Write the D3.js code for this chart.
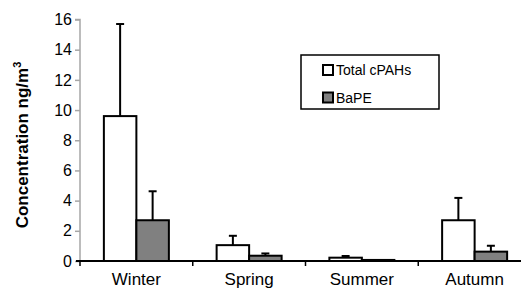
<!DOCTYPE html>
<html>
<head>
<meta charset="utf-8">
<script src="https://cdn.jsdelivr.net/npm/d3@7"></script>
<style>
  body { margin: 0; background: #fff; }
  svg { display: block; font-family: Arial, "Liberation Sans", sans-serif; }
</style>
</head>
<body>
<svg id="chart" width="521" height="288"></svg>
<script>
// seasons and the two series (mean + upper error)
var seasons = ["Winter", "Spring", "Summer", "Autumn"];
var seriesNames = ["Total cPAHs", "BaPE"];
var totalMean = [9.6, 1.05, 0.22, 2.7];
var totalErr  = [6.1, 0.62, 0.11, 1.48];
var bapeMean  = [2.7, 0.35, 0.07, 0.62];
var bapeErr   = [1.92, 0.15, 0, 0.39];
var yTicks = [0, 2, 4, 6, 8, 10, 12, 14, 16];

var fills = ["#ffffff", "#808080"];

var svg = d3.select("#chart");

var x = d3.scaleBand()
    .domain(seasons)
    .range([80, 531])
    .paddingInner(0)
    .paddingOuter(0);

var xSub = d3.scaleBand()
    .domain([0, 1])
    .range([0, 65]);

var y = d3.scaleLinear()
    .domain([0, 16])
    .range([261, 19.5]);

// y axis (grey)
var yAxis = svg.append("g")
    .attr("transform", "translate(80,0)")
    .call(d3.axisLeft(y).tickValues(yTicks).tickSize(5).tickPadding(3));
yAxis.select(".domain").attr("stroke", "#a6a6a6").attr("stroke-width", 1.5)
    .attr("d", "M-5," + y(16) + "H0V" + y(0));
yAxis.selectAll(".tick line").attr("stroke", "#a6a6a6").attr("stroke-width", 1.5);
yAxis.selectAll(".tick text").attr("font-size", 16).attr("fill", "#000")
    .attr("font-family", "Arial, 'Liberation Sans', sans-serif");

// bars
var data = seasons.map(function(s, i) {
  return [
    {season: s, k: 0, v: totalMean[i], e: totalErr[i]},
    {season: s, k: 1, v: bapeMean[i], e: bapeErr[i]}
  ];
});

var groups = svg.selectAll("g.season")
  .data(data)
  .enter()
  .append("g")
  .attr("class", "season")
  .attr("transform", function(d, i) {
    return "translate(" + (x(seasons[i]) + x.bandwidth() / 2 - 32.5) + ",0)";
  });

// error bars first (upper only)
groups.selectAll("g.err")
  .data(function(d) { return d.filter(function(b) { return b.e > 0; }); })
  .enter()
  .append("g")
  .attr("class", "err")
  .each(function(d) {
    var cx = xSub(d.k) + xSub.bandwidth() / 2;
    var g = d3.select(this);
    g.append("line")
      .attr("x1", cx).attr("x2", cx)
      .attr("y1", y(d.v)).attr("y2", y(d.v + d.e))
      .attr("stroke", "#000").attr("stroke-width", 2);
    g.append("line")
      .attr("x1", cx - 4).attr("x2", cx + 4)
      .attr("y1", y(d.v + d.e)).attr("y2", y(d.v + d.e))
      .attr("stroke", "#000").attr("stroke-width", 2);
  });

groups.selectAll("rect")
  .data(function(d) { return d; })
  .enter()
  .append("rect")
  .attr("x", function(d) { return xSub(d.k); })
  .attr("y", function(d) { return y(d.v); })
  .attr("width", xSub.bandwidth())
  .attr("height", function(d) { return y(0) - y(d.v); })
  .attr("fill", function(d) { return fills[d.k]; })
  .attr("stroke", "#000")
  .attr("stroke-width", 2);

// x axis (black)
var xAxis = svg.append("g")
  .attr("transform", "translate(0," + y(0) + ")");
xAxis.append("line")
  .attr("x1", 76).attr("x2", 531)
  .attr("stroke", "#000").attr("stroke-width", 2);
xAxis.selectAll("line.tk")
  .data(seasons)
  .enter()
  .append("line")
  .attr("class", "tk")
  .attr("x1", function(d) { return x(d); })
  .attr("x2", function(d) { return x(d); })
  .attr("y1", 0).attr("y2", 5)
  .attr("stroke", "#000").attr("stroke-width", 1.5);
xAxis.selectAll("text")
  .data(seasons)
  .enter()
  .append("text")
  .attr("x", function(d) { return x(d) + x.bandwidth() / 2; })
  .attr("y", 24)
  .attr("text-anchor", "middle")
  .attr("font-size", 17)
  .text(function(d) { return d; });

// y label
var yl = svg.append("text")
  .attr("transform", "translate(28,145) rotate(-90)")
  .attr("text-anchor", "middle")
  .attr("font-size", 17)
  .attr("font-weight", "bold");
yl.append("tspan").text("Concentration ng/m");
yl.append("tspan").attr("dy", -7).attr("font-size", 11).text("3");

// legend
var legend = svg.append("g").attr("transform", "translate(301,55)");
legend.append("rect")
  .attr("width", 138).attr("height", 54)
  .attr("fill", "#fff").attr("stroke", "#000").attr("stroke-width", 1.5);
var items = legend.selectAll("g.item")
  .data(seriesNames)
  .enter()
  .append("g")
  .attr("class", "item")
  .attr("transform", function(d, i) { return "translate(22," + (15 + i * 27.5) + ")"; });
items.append("rect")
  .attr("x", 0).attr("y", -5)
  .attr("width", 10).attr("height", 10)
  .attr("fill", function(d, i) { return fills[i]; })
  .attr("stroke", "#000").attr("stroke-width", 2);
items.append("text")
  .attr("x", 13).attr("y", 5)
  .attr("font-size", 14)
  .text(function(d) { return d; });
</script>
</body>
</html>
